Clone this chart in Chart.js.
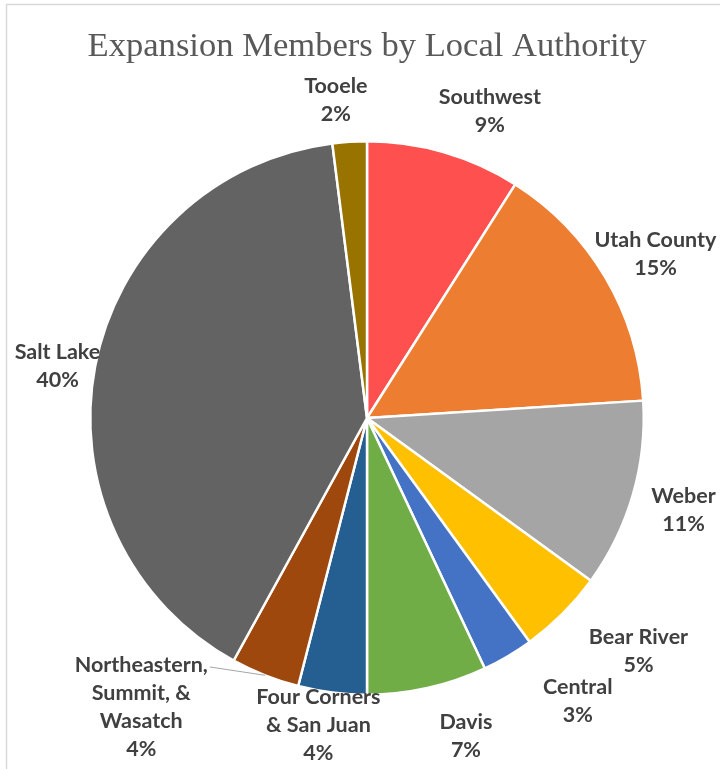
<!DOCTYPE html>
<html>
<head>
<meta charset="utf-8">
<script src="https://cdn.jsdelivr.net/npm/chart.js@4"></script>
<style>
  body { margin: 0; background: #fff; }
  #wrap { width: 720px; height: 769px; position: relative; }
</style>
</head>
<body>
<div id="wrap"><canvas id="pie"></canvas></div>
<script>
// data
const categories = [
  ['Southwest'], ['Utah County'], ['Weber'], ['Bear River'], ['Central'], ['Davis'],
  ['Four Corners', '& San Juan'], ['Northeastern,', 'Summit, &', 'Wasatch'], ['Salt Lake'], ['Tooele']
];
const shares = [9, 15, 11, 5, 3, 7, 4, 4, 40, 2];
const sliceColors = ['#FF5050', '#ED7D31', '#A5A5A5', '#FFC000', '#4472C4', '#70AD47', '#255E91', '#9E480E', '#636363', '#997300'];

// label placement: [angle shift in degrees (clockwise), distance as multiple of radius]
const labelNudge = [[5.6, 1.195], [1, 1.199], [0, 1.191], [-4.4, 1.292], [-6.1, 1.274],
  [-4.7, 1.202], [1.8, 1.123], [16.4, 1.325], [-1.3, 1.134], [-2, 1.155]];
const leaderLine = [false, false, false, false, false, false, false, true, false, false];
const LINE_H = 28;

const frameAndTitle = {
  id: 'frameAndTitle',
  beforeDraw(chart) {
    const { ctx, chartArea } = chart;
    ctx.save();
    ctx.fillStyle = '#fff';
    ctx.fillRect(0, 0, chart.width, chart.height);
    ctx.strokeStyle = '#d9d9d9';
    ctx.lineWidth = 1.5;
    ctx.beginPath();
    ctx.moveTo(6.5, chart.height);
    ctx.lineTo(6.5, 4.5);
    ctx.lineTo(chart.width, 4.5);
    ctx.stroke();
    ctx.font = '34.6px "Liberation Serif"';
    ctx.fillStyle = '#595959';
    ctx.textAlign = 'center';
    ctx.textBaseline = 'middle';
    ctx.fillText('Expansion Members by Local Authority', (chartArea.left + chartArea.right) / 2, 47);
    ctx.restore();
  }
};

const outsideLabels = {
  id: 'outsideLabels',
  afterDatasetsDraw(chart) {
    const { ctx } = chart;
    const meta = chart.getDatasetMeta(0);
    ctx.save();
    ctx.font = 'bold 21.5px Lato';
    ctx.textAlign = 'center';
    ctx.textBaseline = 'middle';
    meta.data.forEach((arc, i) => {
      const { x, y, startAngle, endAngle, outerRadius } =
        arc.getProps(['x', 'y', 'startAngle', 'endAngle', 'outerRadius'], true);
      const mid = (startAngle + endAngle) / 2;
      const [dA, f] = labelNudge[i];
      const a = mid + dA * Math.PI / 180;
      const cx = x + Math.cos(a) * outerRadius * f;
      const cy = y + Math.sin(a) * outerRadius * f;
      const lines = [...categories[i], shares[i] + '%'];
      const top = cy - (lines.length - 1) * LINE_H / 2;
      if (leaderLine[i]) {
        const w = ctx.measureText(lines[0]).width;
        ctx.strokeStyle = '#a6a6a6';
        ctx.lineWidth = 1;
        ctx.beginPath();
        ctx.moveTo(cx + w / 2 + 2, top + 2);
        ctx.lineTo(x + Math.cos(mid) * outerRadius, y + Math.sin(mid) * outerRadius);
        ctx.stroke();
      }
      ctx.fillStyle = '#404040';
      lines.forEach((t, k) => ctx.fillText(t, cx, top + k * LINE_H));
    });
    ctx.restore();
  }
};

new Chart(document.getElementById('pie'), {
  type: 'pie',
  data: {
    labels: categories,
    datasets: [{
      data: shares,
      backgroundColor: sliceColors,
      borderColor: '#fff',
      borderWidth: 2.5
    }]
  },
  options: {
    responsive: true,
    maintainAspectRatio: false,
    animation: false,
    layout: { padding: { left: 89, right: 75, top: 140, bottom: 73 } },
    plugins: { legend: { display: false }, tooltip: { enabled: false }, title: { display: false } }
  },
  plugins: [frameAndTitle, outsideLabels]
});
</script>
</body>
</html>
